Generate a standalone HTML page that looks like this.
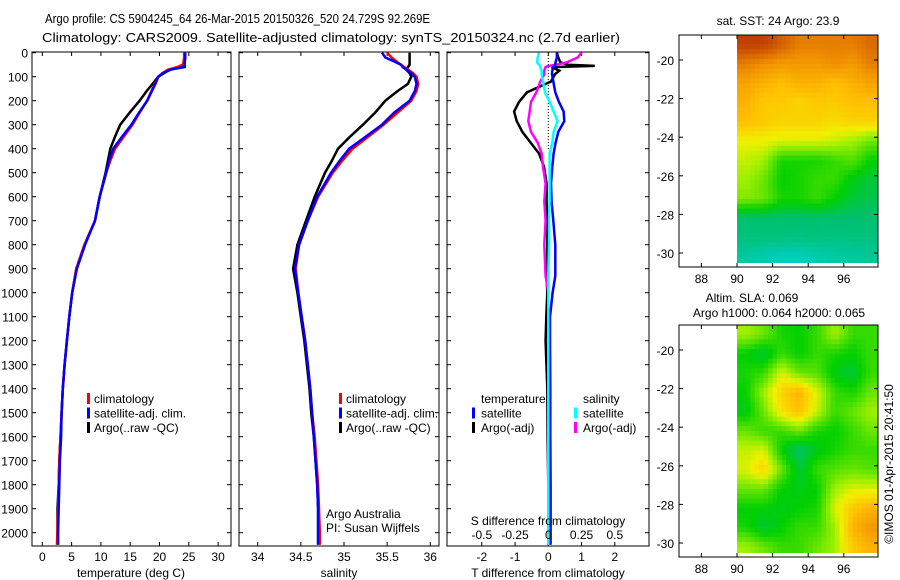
<!DOCTYPE html>
<html><head><meta charset="utf-8"><style>
body{margin:0;background:#fff;}
svg{display:block;font-family:"Liberation Sans",sans-serif;font-size:12px;}
</style></head><body>
<svg id="s" width="900" height="580" viewBox="0 0 900 580"></svg>
<script>
// ---- data ----
const depths = [0,20,40,50,60,70,85,100,130,160,200,250,300,350,400,450,500,600,700,800,900,1000,1100,1200,1300,1400,1500,1600,1700,1800,1900,2000,2050];
const tempClim = [24.2,24.2,24.1,24.0,23.0,21.5,20.5,19.8,19.2,18.6,17.9,16.6,15.4,13.9,12.4,11.6,10.9,9.8,9.0,7.2,5.8,5.1,4.6,4.2,3.8,3.5,3.3,3.1,2.9,2.8,2.7,2.6,2.5];
const tempSat = [24.4,24.4,24.3,24.3,24.0,22.0,20.6,19.8,19.3,18.7,17.9,16.5,15.2,13.6,12.1,11.4,10.9,9.8,9.0,7.3,5.9,5.1,4.6,4.2,3.8,3.5,3.3,3.2,3.0,2.9,2.8,2.7,2.7];
const tempArgo = [24.3,24.3,24.3,24.3,24.3,21.8,20.8,19.8,18.8,17.8,16.6,14.9,13.3,12.4,11.6,11.2,10.8,9.8,9.0,7.2,5.8,5.1,4.6,4.2,3.8,3.5,3.3,3.1,2.9,2.8,2.6,2.6,2.6];
const salClim = [35.50,35.55,35.62,35.66,35.70,35.74,35.80,35.84,35.86,35.84,35.78,35.62,35.46,35.28,35.10,34.98,34.87,34.70,34.58,34.48,34.44,34.47,34.51,34.55,34.58,34.61,34.63,34.66,34.68,34.70,34.71,34.72,34.72];
const salSat = [35.44,35.48,35.60,35.66,35.68,35.72,35.78,35.82,35.84,35.82,35.76,35.58,35.44,35.25,35.06,34.95,34.85,34.69,34.58,34.48,34.43,34.47,34.51,34.55,34.58,34.61,34.63,34.65,34.67,34.69,34.70,34.70,34.70];
const salArgo = [35.76,35.76,35.76,35.76,35.74,35.72,35.76,35.78,35.74,35.62,35.48,35.36,35.22,35.07,34.93,34.86,34.78,34.66,34.56,34.46,34.41,34.46,34.50,34.54,34.57,34.60,34.62,34.65,34.67,34.69,34.70,34.70,34.70];
const dDepths = [0,20,40,50,55,60,75,90,120,165,205,245,285,330,375,420,475,545,620,700,800,930,1000,1100,1200,1400,1600,1800,2000,2050];
const dTSat = [0.26,0.26,0.22,0.20,0.18,0.15,0.12,0.11,0.15,0.21,0.32,0.46,0.48,0.30,0.22,0.16,0.12,0.08,0.10,0.15,0.21,0.21,0.13,0.05,0.05,0.06,0.06,0.07,0.07,0.07];
const dTArgo = [0.26,0.30,0.36,0.60,1.40,0.10,0.33,0.20,0.08,-0.64,-0.88,-1.03,-0.95,-0.78,-0.53,-0.28,-0.13,-0.05,-0.05,-0.03,-0.03,-0.05,-0.03,-0.06,-0.08,-0.03,-0.02,0,0,0];
const dSSat = [-0.07,-0.08,-0.085,-0.07,-0.06,-0.06,-0.05,-0.05,-0.04,-0.025,0.01,0.04,0.07,0.04,0.03,0.01,0.01,0.01,0.01,0.005,0.005,0,0,0,0,0,0,0,0,0];
const dSArgo = [0.25,0.22,0.14,0.06,0.0,-0.02,-0.03,-0.03,-0.06,-0.09,-0.13,-0.14,-0.15,-0.13,-0.08,-0.05,-0.04,-0.02,-0.03,-0.02,-0.03,-0.02,0,0,0,0.01,0,0,0,0];
const depthTicks = [0,100,200,300,400,500,600,700,800,900,1000,1100,1200,1300,1400,1500,1600,1700,1800,1900,2000];
const tempTicks = [0,5,10,15,20,25,30];
const salTicks = [34,34.5,35,35.5,36];
const salTickLabels = ["34","34.5","35","35.5","36"];
const dTTicks = [-2,-1,0,1,2];
const dSTicks = [-0.5,-0.25,0,0.25,0.5];
const dSTickLabels = ["-0.5","-0.25","0","0.25","0.5"];
const lonTicks = [88,90,92,94,96];
const latTicks = [-20,-22,-24,-26,-28,-30];
const sstGrid = [
[0.95,0.95,0.9,0.85,0.85,0.85,0.85,0.88],
[0.85,0.82,0.8,0.8,0.8,0.82,0.8,0.85],
[0.78,0.75,0.72,0.75,0.75,0.72,0.75,0.78],
[0.75,0.7,0.7,0.68,0.7,0.7,0.72,0.72],
[0.72,0.7,0.68,0.68,0.68,0.66,0.68,0.68],
[0.62,0.62,0.6,0.6,0.6,0.58,0.55,0.5],
[0.58,0.55,0.42,0.42,0.42,0.45,0.48,0.4],
[0.55,0.5,0.4,0.42,0.45,0.45,0.38,0.35],
[0.52,0.5,0.42,0.42,0.45,0.4,0.35,0.33],
[0.3,0.3,0.3,0.3,0.3,0.3,0.3,0.3],
[0.28,0.28,0.28,0.27,0.28,0.27,0.28,0.28],
[0.22,0.2,0.18,0.18,0.2,0.22,0.22,0.24]];
const slaGrid = [
[0.55,0.5,0.42,0.4,0.45,0.55,0.45,0.45],
[0.4,0.35,0.45,0.4,0.45,0.42,0.4,0.45],
[0.42,0.45,0.6,0.5,0.48,0.38,0.35,0.45],
[0.4,0.55,0.68,0.75,0.6,0.45,0.42,0.5],
[0.38,0.5,0.65,0.72,0.58,0.45,0.5,0.55],
[0.5,0.45,0.45,0.5,0.42,0.4,0.45,0.5],
[0.58,0.6,0.4,0.3,0.38,0.42,0.45,0.45],
[0.6,0.68,0.5,0.35,0.45,0.48,0.5,0.48],
[0.5,0.5,0.4,0.38,0.4,0.55,0.6,0.6],
[0.4,0.4,0.38,0.4,0.42,0.6,0.7,0.75],
[0.42,0.35,0.4,0.45,0.45,0.55,0.75,0.8],
[0.55,0.5,0.45,0.45,0.5,0.55,0.7,0.75]];

// ---- helpers ----
const S=document.getElementById('s');const NS='http://www.w3.org/2000/svg';
function el(t,a,txt){const e=document.createElementNS(NS,t);for(const k in a)e.setAttribute(k,a[k]);if(txt!==undefined)e.textContent=txt;S.appendChild(e);return e;}
const yD=d=>52.7+0.24*d;
const PB=546, PT=52;
function panel(x0,x1,name){
  const r=el('rect',{x:x0,y:PT,width:x1-x0,height:PB-PT,fill:'none',stroke:'#000','stroke-width':1});
  
  
  depthTicks.forEach(d=>{el('line',{x1:x0,x2:x0+4,y1:yD(d),y2:yD(d),stroke:'#000'});el('line',{x1:x1,x2:x1-4,y1:yD(d),y2:yD(d),stroke:'#000'});});
}
function xticks(x0,x1,ticks,fx,labels,ly){
  ticks.forEach((t,i)=>{const x=fx(t);el('line',{x1:x,x2:x,y1:PT,y2:PT+4,stroke:'#000'});el('line',{x1:x,x2:x,y1:PB,y2:PB-4,stroke:'#000'});
    const tl=el('text',{x:x,y:ly,'text-anchor':'middle'},labels?labels[i]:String(t));
    
    });
}
function line(ds,vs,fx,col,w,name){
  const p=ds.map((d,i)=>(i?'L':'M')+fx(vs[i]).toFixed(1)+','+yD(d).toFixed(1)).join('');
  const e=el('path',{d:p,fill:'none',stroke:col,'stroke-width':w,'stroke-linejoin':'miter'});
  
  
}
function txt(x,y,s,name,anchor){const e=el('text',{x:x,y:y,'text-anchor':anchor||'start'},s);
  
  return e;}
function mark(x,y,col){el('rect',{x:x,y:y-10,width:3,height:11,fill:col});}

// titles
let t1=txt(45,23,'Argo profile: CS 5904245_64 26-Mar-2015 20150326_520 24.729S 92.269E','title-line-1');t1.setAttribute('font-size','13');t1.setAttribute('textLength','385');t1.setAttribute('lengthAdjust','spacingAndGlyphs');
let t2=txt(42,42,'Climatology: CARS2009. Satellite-adjusted climatology: synTS_20150324.nc (2.7d earlier)','title-line-2');t2.setAttribute('font-size','13');t2.setAttribute('textLength','578');t2.setAttribute('lengthAdjust','spacingAndGlyphs');

// depth labels
depthTicks.forEach(d=>txt(28,yD(d)+5,String(d),'depth-tick-label','end'));

// panel 1 temperature
const fT=t=>42.3+5.86*t;
panel(32,231,'temperature-panel');
xticks(32,231,tempTicks,fT,null,561);
txt(131,577,'temperature (deg C)','x-axis-title-temperature','middle');
line(depths,tempArgo,fT,'#000',2.5,'temp-argo-line');
line(depths,tempClim,fT,'#f00',2.5,'temp-climatology-line');
line(depths,tempSat,fT,'#00f',2.5,'temp-satellite-line');
[['climatology','#f00'],['satellite-adj. clim.','#00f'],['Argo(..raw -QC)','#000']].forEach((l,i)=>{mark(87,403+i*14.5,l[1]);txt(94,403+i*14.5,l[0],'legend-entry');});

// panel 2 salinity
const fS=s=>257.7+86.3*(s-34);
panel(239,439,'salinity-panel');
xticks(239,439,salTicks,fS,salTickLabels,561);
txt(339,577,'salinity','x-axis-title-salinity','middle');
line(depths,salArgo,fS,'#000',2.5,'sal-argo-line');
line(depths,salClim,fS,'#f00',2.5,'sal-climatology-line');
line(depths,salSat,fS,'#00f',2.5,'sal-satellite-line');
[['climatology','#f00'],['satellite-adj. clim.','#00f'],['Argo(..raw -QC)','#000']].forEach((l,i)=>{mark(339,403+i*14.5,l[1]);txt(346,403+i*14.5,l[0],'legend-entry');});
txt(326,518,'Argo Australia','institution-label');
txt(326,532,'PI: Susan Wijffels','pi-label');

// panel 3 differences
const fdT=t=>548.3+33.25*t, fdS=s=>548.3+133*s;
panel(447,649,'difference-panel');
xticks(447,649,dTTicks,fdT,null,561);
el('line',{x1:fdT(0),x2:fdT(0),y1:PT,y2:150,stroke:'#000','stroke-dasharray':'1,2'});
line(dDepths,dTArgo,fdT,'#000',2.5,'dT-argo-line');
line(dDepths,dSArgo,fdS,'#f0f',2.5,'dS-argo-line');
line(dDepths,dTSat,fdT,'#00f',2.5,'dT-satellite-line');
line(dDepths,dSSat,fdS,'#0ff',2.5,'dS-satellite-line');
dSTicks.forEach((s,i)=>txt(fdS(s),539,dSTickLabels[i],'s-tick-label','middle'));
txt(548,525,'S difference from climatology','s-axis-title','middle');
txt(548,577,'T difference from climatology','t-axis-title','middle');
txt(481,403,'temperature','legend-title-temperature');
txt(583,403,'salinity','legend-title-salinity');
mark(472,417.5,'#00f');txt(481,417.5,'satellite','legend-entry');
mark(472,432,'#000');txt(481,432,'Argo(-adj)','legend-entry');
mark(574,417.5,'#0ff');txt(583,417.5,'satellite','legend-entry');
mark(574,432,'#f0f');txt(583,432,'Argo(-adj)','legend-entry');

// maps
const cstops=[[0.15,[0,208,208]],[0.3,[0,192,112]],[0.4,[0,208,0]],[0.55,[160,240,0]],[0.62,[240,240,0]],[0.72,[255,192,0]],[0.82,[240,144,0]],[0.95,[192,64,0]]];
function cmap(v){if(v<=cstops[0][0])return 'rgb('+cstops[0][1]+')';for(let i=1;i<cstops.length;i++){if(v<=cstops[i][0]){const a=cstops[i-1],b=cstops[i],f=(v-a[0])/(b[0]-a[0]);return 'rgb('+a[1].map((c,j)=>Math.round(c+(b[1][j]-c)*f))+')';}}return 'rgb('+cstops[cstops.length-1][1]+')';}
function sample(grid,r,c){ // bilinear interpolation on cell centres
  const R=grid.length,C=grid[0].length;
  r=Math.max(0,Math.min(R-1,r-0.5));c=Math.max(0,Math.min(C-1,c-0.5));
  const r0=Math.floor(r),c0=Math.floor(c),r1=Math.min(R-1,r0+1),c1=Math.min(C-1,c0+1),fr=r-r0,fc=c-c0;
  return grid[r0][c0]*(1-fr)*(1-fc)+grid[r0][c1]*(1-fr)*fc+grid[r1][c0]*fr*(1-fc)+grid[r1][c1]*fr*fc;
}
function map(top,bot,grid,name){
  const fx=lon=>737+17.8*(lon-90), fy=lat=>top+25+19.3*(-20-lat);
  const sub=4, R=grid.length, C=grid[0].length;
  for(let i=0;i<R*sub;i++)for(let j=0;j<C*sub;j++){
    const v=sample(grid,(i+0.5)/sub,(j+0.5)/sub);
    const x=fx(90+j/sub), y=fy(-18.7-i/sub);
    const w=Math.min(17.8/sub+0.4,878-x), h=Math.min(19.3/sub+0.4,bot-4-y);
    if(w<=0||h<=0)continue;
    const c=el('rect',{x:x.toFixed(1),y:y.toFixed(1),width:w.toFixed(1),height:h.toFixed(1),fill:cmap(v)});
    
    
  }
  const r=el('rect',{x:679,y:top,width:199,height:bot-top,fill:'none',stroke:'#000'});
  
  
  lonTicks.forEach(l=>{const x=fx(l);el('line',{x1:x,x2:x,y1:bot,y2:bot-4,stroke:'#000'});el('line',{x1:x,x2:x,y1:top,y2:top+4,stroke:'#000'});txt(x,bot+16,String(l),'lon-tick-label','middle');});
  latTicks.forEach(l=>{const y=fy(l);el('line',{x1:679,x2:683,y1:y,y2:y,stroke:'#000'});el('line',{x1:878,x2:874,y1:y,y2:y,stroke:'#000'});txt(674,y+5,String(l),'lat-tick-label','end');});
}
map(35,267,sstGrid,'sst-map');
map(325,557,slaGrid,'sla-map');
txt(778,25,'sat. SST: 24 Argo: 23.9','sst-map-title','middle');
txt(752,302,'Altim. SLA: 0.069','sla-map-title','middle');
txt(779,317,'Argo h1000: 0.064 h2000: 0.065','sla-argo-label','middle');
const cr=txt(0,0,'©IMOS 01-Apr-2015 20:41:50','copyright-label','middle');
cr.setAttribute('transform','translate(893,464) rotate(-90)');
</script>
</body></html>
